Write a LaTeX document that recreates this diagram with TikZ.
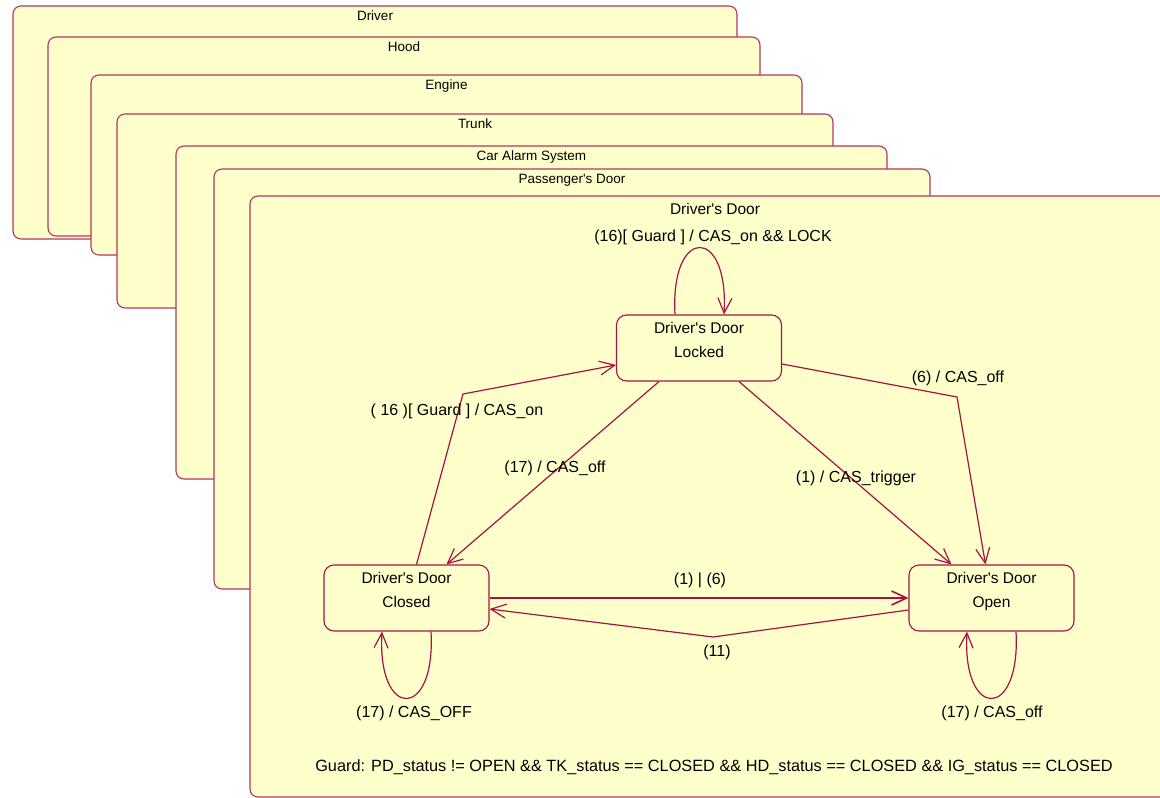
\documentclass[tikz,border=0pt]{standalone}
\usepackage{fontspec}
\setmainfont{Liberation Sans}[Ligatures=TeXOff]
\usetikzlibrary{arrows.meta,positioning}
\definecolor{umlred}{RGB}{165,20,65}
\definecolor{umlyellow}{RGB}{255,255,204}

\begin{document}
\begin{tikzpicture}[x=1pt,y=-1pt,
  >={Straight Barb[length=15pt,width=14pt]},
  frame/.style={draw=umlred!85, fill=umlyellow, line width=1.1pt, rounded corners=8pt, inner sep=0pt},
  frametitle/.style={font=\fontsize{13.5}{15}\selectfont, inner sep=0pt},
  state/.style={draw=umlred, fill=umlyellow, line width=1.1pt, rounded corners=10pt,
    minimum width=165pt, minimum height=66pt, align=center,
    font=\fontsize{15.5}{23.5}\selectfont, text depth=16pt},
  trans/.style={->, draw=umlred, line width=1.2pt},
  lbl/.style={font=\fontsize{16}{18}\selectfont, inner sep=0pt}]
\clip (0,0) rectangle (1160,798);
% stacked regions, back to front
\node (driverframe) [frame, minimum width=724pt, minimum height=233pt] at (375,122.5) {};
\node (drivertitle) [frametitle, below=5.5pt of driverframe.north] {Driver};
\node (hoodframe) [frame, minimum width=712pt, minimum height=199pt] at (404,136.5) {};
\node (hoodtitle) [frametitle, below=5.5pt of hoodframe.north] {Hood};
\node (engineframe) [frame, minimum width=711pt, minimum height=180pt] at (446.5,165) {};
\node (enginetitle) [frametitle, below=5.5pt of engineframe.north] {Engine};
\node (trunkframe) [frame, minimum width=716pt, minimum height=194pt] at (475,211) {};
\node (trunktitle) [frametitle, below=5.5pt of trunkframe.north] {Trunk};
\node (casframe) [frame, minimum width=711pt, minimum height=333pt] at (531.5,312.5) {};
\node (castitle) [frametitle, below=5.5pt of casframe.north] {Car Alarm System};
\node (pdframe) [frame, minimum width=716pt, minimum height=420pt] at (572,379) {};
\node (pdtitle) [frametitle, below=5.5pt of pdframe.north] {Passenger's Door};
\node (ddframe) [frame, minimum width=990pt, minimum height=601pt] at (745,496.5) {};
\node (ddtitle) [lbl, font=\fontsize{15.5}{18}\selectfont] at (715,209) {Driver's Door};
% states
\node (locked) [state] at (699,348) {Driver's Door\\Locked};
\node (closed) [state] at (406.5,598) {Driver's Door\\Closed};
\node (open) [state] at (991.5,598) {Driver's Door\\Open};
\coordinate (b6) at (957,397);
\coordinate (b16) at (463,394);
\coordinate (b11) at (713,637);
% transitions
\draw [trans] ([xshift=-24pt]locked.north) .. controls +(-5,-89) and +(5,-89) .. ([xshift=25pt]locked.north);
\draw [trans] ([yshift=-16pt]locked.east) -- (b6) -- ([xshift=-6pt]open.north);
\draw [trans] ([xshift=40pt]locked.south) -- ([xshift=-40pt]open.north);
\draw [trans] ([xshift=-40pt]locked.south) -- ([xshift=40pt]closed.north);
\draw [trans] ([xshift=10pt]closed.north) -- (b16) -- ([yshift=-17pt]locked.west);
\draw [trans, line width=1.6pt] (closed.east) -- (open.west);
\draw [trans] ([yshift=-12pt]open.west) -- (b11) -- ([yshift=-11pt]closed.east);
\draw [trans] ([xshift=24.5pt]closed.south) .. controls +(5,89) and +(-5,89) .. ([xshift=-24.5pt]closed.south);
\draw [trans] ([xshift=24.5pt]open.south) .. controls +(5,89) and +(-5,89) .. ([xshift=-24.5pt]open.south);
% labels
\node (lockloop) [lbl] at (713,237) {(16)[ Guard ] / CAS\_on \&\& LOCK};
\node (lockopen) [lbl] at (958,378) {(6) / CAS\_off};
\node (trigger) [lbl] at (856,478) {(1) / CAS\_trigger};
\node (lockclosed) [lbl] at (555,468) {(17) / CAS\_off};
\node (guardon) [lbl] at (457,411) {( 16 )[ Guard ] / CAS\_on};
\node (closedopen) [lbl] at (700,580) {(1) | (6)};
\node (openclosed) [lbl] at (717,652) {(11)};
\node (closedloop) [lbl] at (414,713) {(17) / CAS\_OFF};
\node (openloop) [lbl] at (992,713) {(17) / CAS\_off};
\node (guard) [lbl, font=\fontsize{16.3}{18}\selectfont] at (714,767) {Guard: PD\_status != OPEN \&\& TK\_status == CLOSED \&\& HD\_status == CLOSED \&\& IG\_status == CLOSED};
\end{tikzpicture}
\end{document}
